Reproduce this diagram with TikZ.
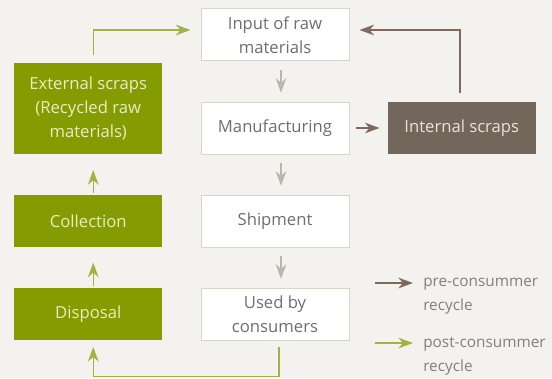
\documentclass[tikz,border=0pt]{standalone}
\usepackage{fontspec}
\setmainfont{Open Sans}
\usetikzlibrary{arrows.meta, positioning}

\definecolor{backdrop}{RGB}{243,242,238}
\definecolor{stageline}{RGB}{216,214,200}
\definecolor{stagetext}{RGB}{110,110,110}
\definecolor{greenfill}{RGB}{132,156,0}
\definecolor{greentext}{RGB}{232,238,190}
\definecolor{greenline}{RGB}{160,180,70}
\definecolor{brownfill}{RGB}{114,103,90}
\definecolor{browntext}{RGB}{232,228,220}
\definecolor{brownline}{RGB}{128,105,92}
\definecolor{grayline}{RGB}{185,183,168}
\definecolor{legendtext}{RGB}{128,128,128}

\begin{document}
\begin{tikzpicture}[x=0.75pt, y=-0.75pt, node distance=30pt and 28.5pt,
  every node/.style={font=\fontsize{12.5}{18}\selectfont},
  box/.style={minimum width=111pt, minimum height=39pt, align=center, inner sep=0pt},
  stage/.style={box, draw=stageline, line width=0.75pt, fill=white, text=stagetext},
  reuse/.style={box, fill=greenfill, text=greentext},
  scrap/.style={box, fill=brownfill, text=browntext},
  legend/.style={align=left, inner sep=0pt, text=legendtext, font=\fontsize{11.5}{18}\selectfont},
  tip/.style={-{Stealth[length=11pt, width=8pt, inset=3.5pt]}, line width=1.1pt},
  flow/.style={tip, color=grayline},
  pre/.style={tip, color=brownline},
  post/.style={tip, color=greenline}]
\useasboundingbox (0,0) rectangle (552,378);
\fill [backdrop] (0,0) rectangle (552,378);

\node (input) [stage] at (275,35) {Input of raw\\materials};
\node (manuf) [stage, below = of input] {Manufacturing};
\node (ship) [stage, below = of manuf] {Shipment};
\node (used) [stage, below = of ship] {Used by\\consumers};
\node (internal) [scrap, right = of manuf] {Internal scraps};
\node (coll) [reuse, left = of ship] {Collection};
\node (disp) [reuse, left = of used] {Disposal};
\node (ext) [reuse, minimum height=68.25pt, above = of coll] {External scraps\\(Recycled raw\\materials)};

\path [flow, shorten <=6pt, shorten >=6.5pt]
     ([xshift=4.5pt]input.south) edge ([xshift=4.5pt]manuf.north)
     ([xshift=4.5pt]manuf.south) edge ([xshift=4.5pt]ship.north)
     ([xshift=4.5pt]ship.south) edge ([xshift=4.5pt]used.north);
\path [post, shorten <=1pt, shorten >=11.5pt]
     ([xshift=3.75pt]disp.north) edge ([xshift=3.75pt]coll.south)
     ([xshift=3.75pt]coll.north) edge ([xshift=3.75pt]ext.south);
\draw [pre, shorten <=4.5pt, shorten >=6pt] (manuf) -- (internal);
\draw [pre, shorten <=6.75pt, shorten >=7.5pt]
     ([xshift=-1.5pt]internal.north) |- ([yshift=3.75pt]input.east);
\draw [post, shorten <=6pt, shorten >=7.5pt]
     ([xshift=3.75pt]ext.north) |- ([yshift=3.75pt]input.west);
\draw [post, shorten <=5pt, shorten >=5pt]
     ([xshift=3pt]used.south) -- ++(0,36) -| ([xshift=3.75pt]disp.south);

% legend
\coordinate (pre start) at (375,283);
\coordinate (post start) at (375,343);
\node (pre label) [legend, anchor=west] at (423,296) {pre-consummer\\recycle};
\node (post label) [legend, anchor=west] at (423,356) {post-consummer\\recycle};
\draw [pre, shorten >=7.5pt] (pre start) -- (pre start -| pre label.west);
\draw [post, shorten >=7.5pt] (post start) -- (post start -| post label.west);
\end{tikzpicture}
\end{document}
